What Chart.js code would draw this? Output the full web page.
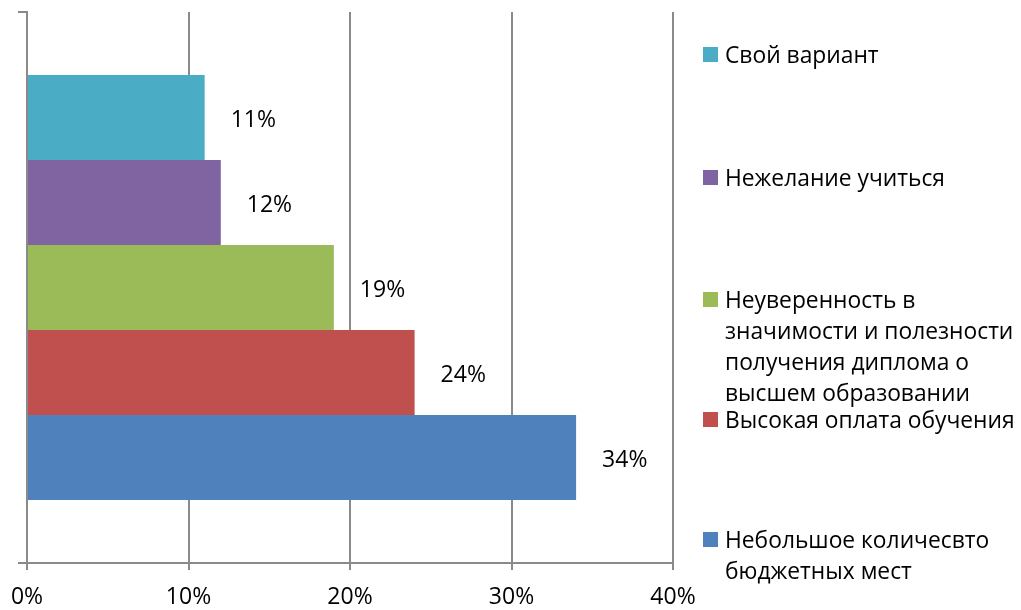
<!DOCTYPE html>
<html>
<head>
<meta charset="utf-8">
<script src="https://cdn.jsdelivr.net/npm/chart.js@4"></script>
<style>
    html, body { margin: 0; padding: 0; background: #fff; }
    #wrap { position: relative; width: 1021px; height: 610px; }
    #legend { position: absolute; left: 0; top: 0; font-family: "Open Sans", sans-serif; font-size: 22.8px; color: #000; }
    .item { position: absolute; left: 703px; line-height: 31px; white-space: pre; padding-left: 22px; }
    .box { position: absolute; left: 0; top: 8px; width: 15px; height: 15px; }
</style>
</head>
<body>
<div id="wrap">
    <canvas id="chart" width="1021" height="610"></canvas>
    <div id="legend"></div>
</div>
<script>
// Data
const categories = [''];
const seriesNames = [
    'Свой вариант',
    'Нежелание учиться',
    'Неуверенность в\nзначимости и полезности\nполучения диплома о\nвысшем образовании',
    'Высокая оплата обучения',
    'Небольшое количесвто\nбюджетных мест'
];
const seriesValues = [11, 12, 19, 24, 34];
const seriesColors = ['#4BACC6', '#8064A2', '#9BBB59', '#C0504D', '#4F81BD'];
const xTicks = [0, 10, 20, 30, 40];

// legend layout (top of each entry, px)
const legendTops = [39, 162, 284, 404, 524];

const gridColor = '#8a8a8a';
const fontFamily = '"Open Sans", sans-serif';

// Value labels to the right of each bar
const valueLabels = {
    id: 'valueLabels',
    afterDatasetsDraw(chart) {
        const ctx = chart.ctx;
        ctx.save();
        ctx.font = '23px ' + fontFamily;
        ctx.fillStyle = '#000';
        ctx.textAlign = 'left';
        ctx.textBaseline = 'middle';
        chart.data.datasets.forEach((ds, i) => {
            const bar = chart.getDatasetMeta(i).data[0];
            ctx.fillText(ds.data[0] + '%', bar.x + 26, bar.y + 3);
        });
        ctx.restore();
    }
};

const datasets = seriesNames.map((name, i) => ({
    label: name,
    data: [seriesValues[i]],
    backgroundColor: seriesColors[i],
    borderWidth: 0,
    barPercentage: 1,
    categoryPercentage: 0.771
}));

new Chart(document.getElementById('chart'), {
    type: 'bar',
    data: { labels: categories, datasets: datasets },
    plugins: [valueLabels],
    options: {
        indexAxis: 'y',
        responsive: false,
        animation: false,
        layout: { padding: { top: 12, right: 348, left: 0, bottom: 0 } },
        plugins: {
            legend: { display: false },
            tooltip: { enabled: false }
        },
        scales: {
            x: {
                min: 0,
                max: 40,
                afterBuildTicks: (scale) => { scale.ticks = xTicks.map(v => ({ value: v })); },
                afterFit: (scale) => {
                    scale.height = 47;
                    scale.paddingLeft = 0;
                    scale.paddingRight = 0;
                },
                grid: { color: gridColor, lineWidth: 2, tickLength: 7 },
                border: { color: gridColor, width: 2 },
                ticks: {
                    color: '#000',
                    padding: 14,
                    font: { family: fontFamily, size: 23 },
                    callback: (v) => v + '%'
                }
            },
            y: {
                afterFit: (scale) => { scale.width = 27; },
                grid: { color: gridColor, lineWidth: 2, drawOnChartArea: false, tickLength: 9, offset: true },
                border: { color: gridColor, width: 2 },
                ticks: { display: false }
            }
        }
    }
});

// HTML legend
const legend = document.getElementById('legend');
seriesNames.forEach((name, i) => {
    const item = document.createElement('div');
    item.className = 'item';
    item.style.top = legendTops[i] + 'px';
    const box = document.createElement('span');
    box.className = 'box';
    box.style.background = seriesColors[i];
    item.appendChild(box);
    item.appendChild(document.createTextNode(name));
    legend.appendChild(item);
});
</script>
</body>
</html>
